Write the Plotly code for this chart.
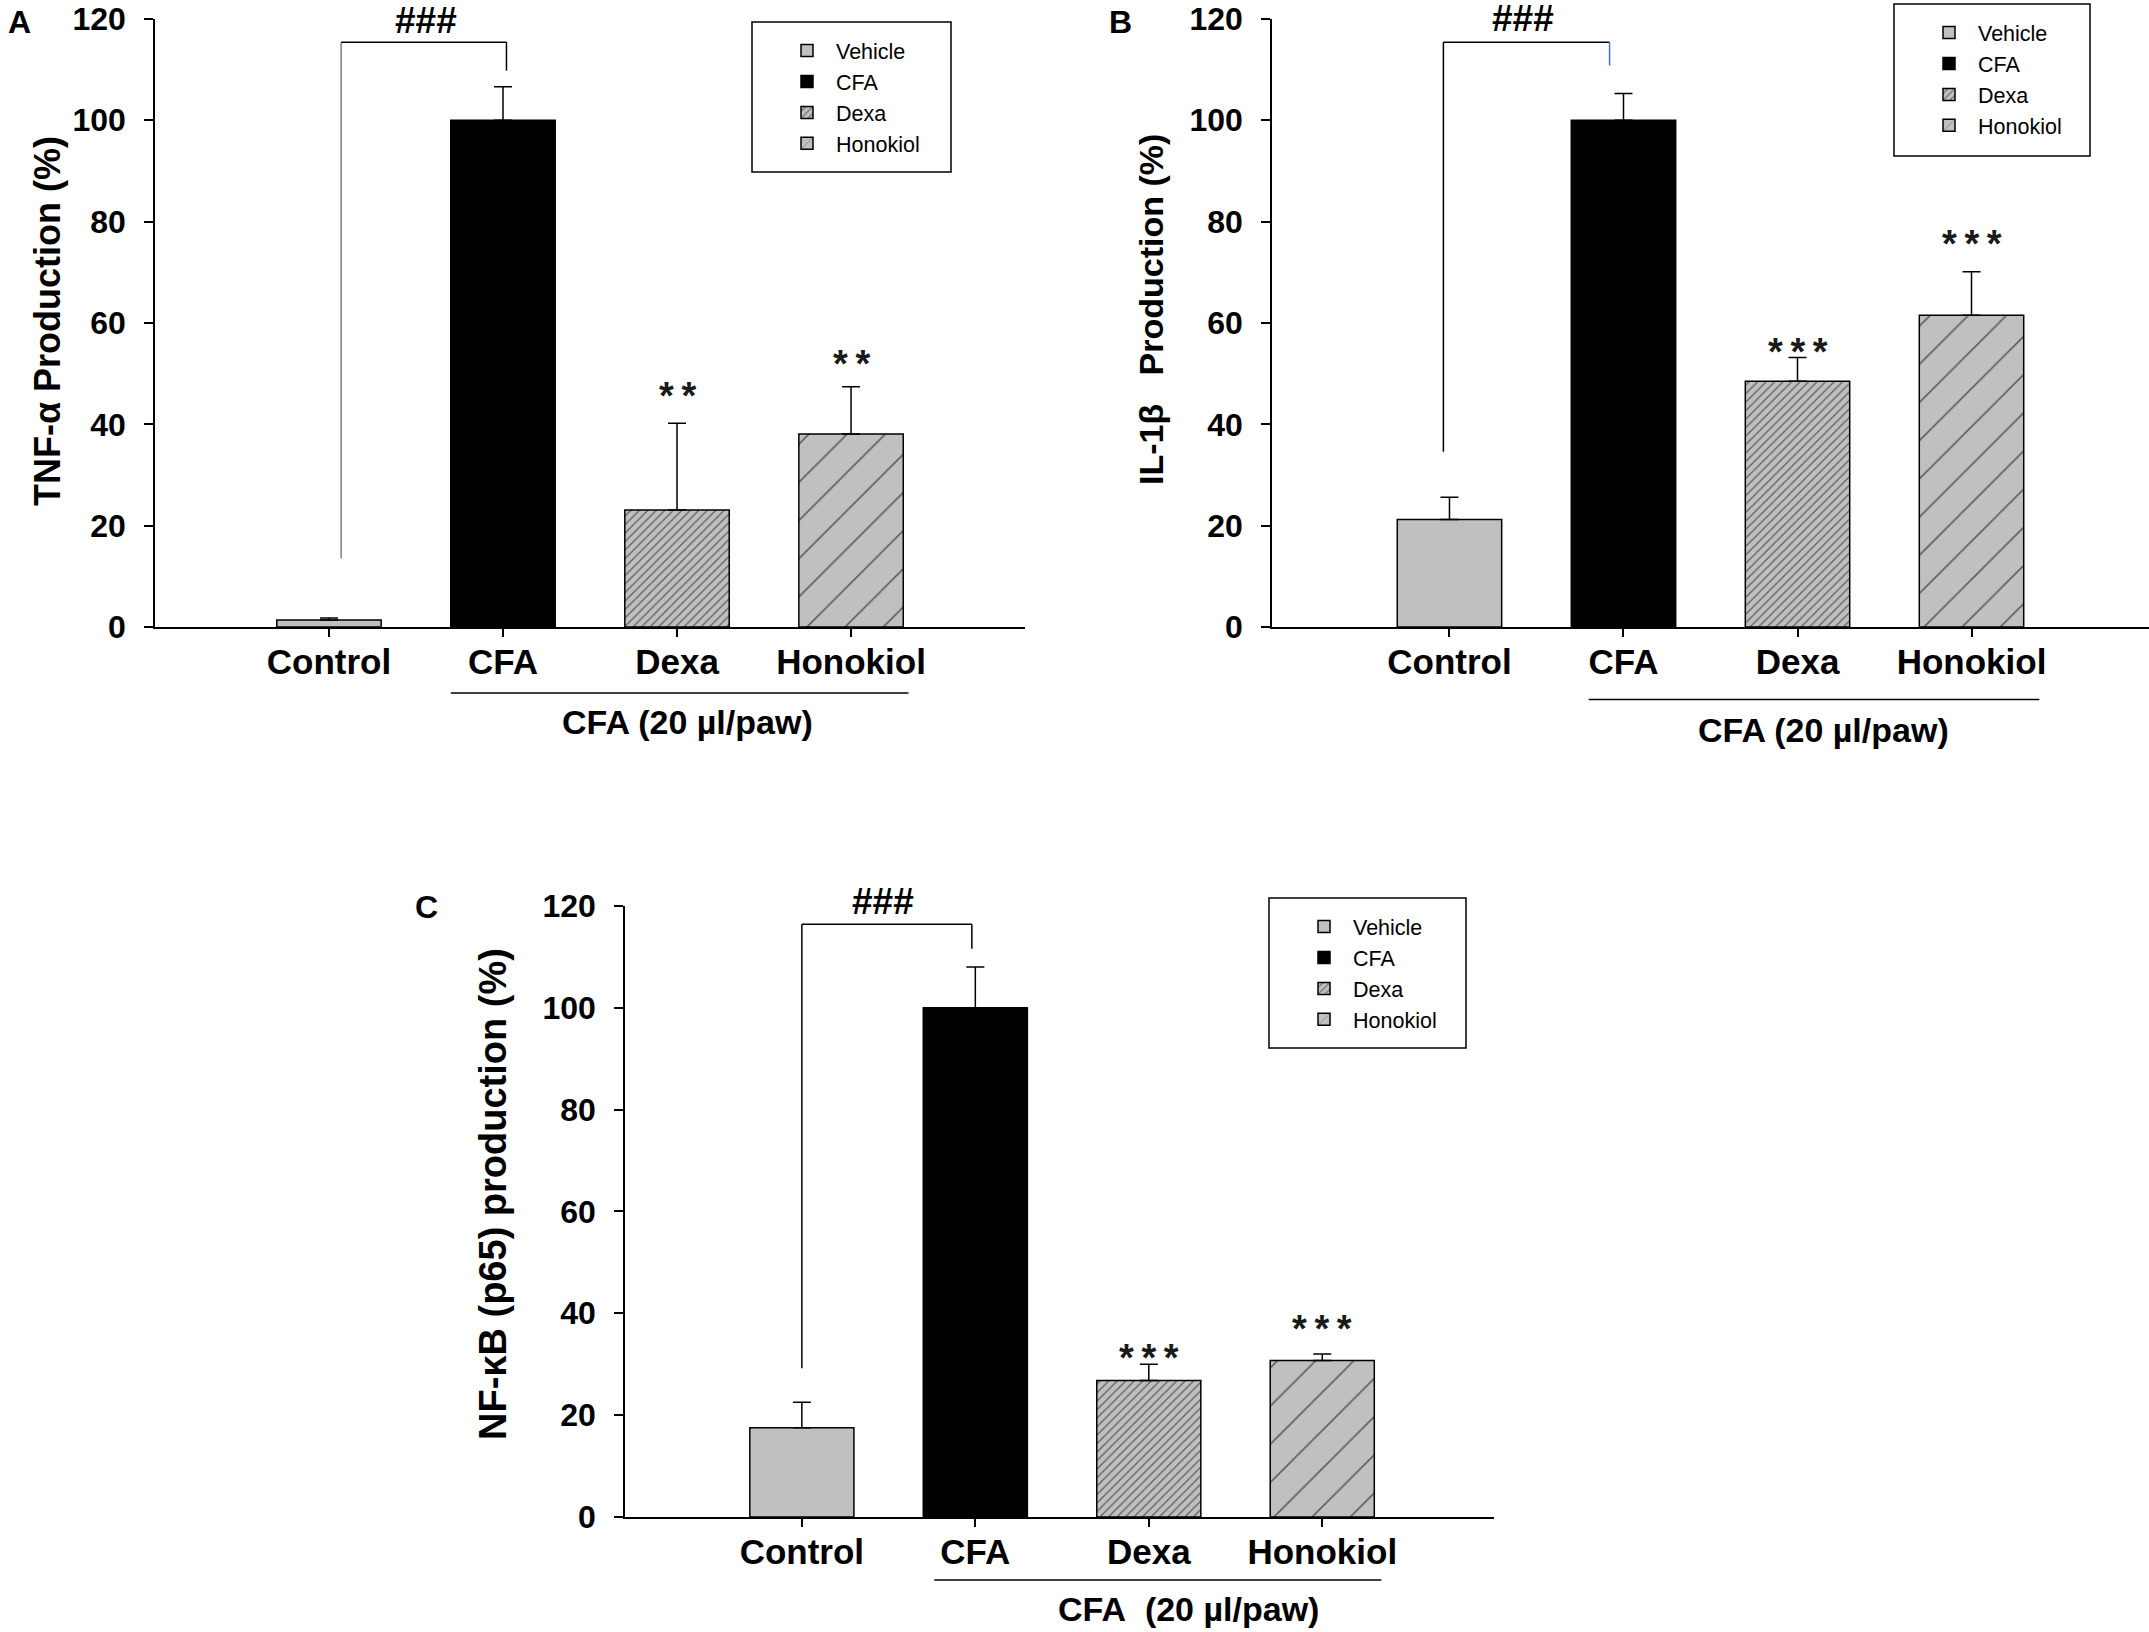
import plotly.graph_objects as go

# %%
# Values (percent of CFA group)
categories = ["Control", "CFA", "Dexa", "Honokiol"]
legend_names = ["Vehicle", "CFA", "Dexa", "Honokiol"]

tnf_values = [1.4, 100, 23.1, 38.1]
tnf_errors = [0.4, 6.6, 17.1, 9.3]
tnf_stars = ["", "", "**", "**"]
tnf_star_y = [None, None, 46.9, 53.3]

il1b_values = [21.2, 100, 48.5, 61.5]
il1b_errors = [4.4, 5.3, 4.7, 8.6]
il1b_stars = ["", "", "***", "***"]
il1b_star_y = [None, None, 55.6, 76.9]

nfkb_values = [17.5, 100, 26.8, 30.7]
nfkb_errors = [5.0, 8.0, 3.2, 1.3]
nfkb_stars = ["", "", "***", "***"]
nfkb_star_y = [None, None, 32.6, 38.2]

# Control vs CFA bracket: x left, x right, y top, y bottom left, y bottom right
tnf_bracket = [0.07, 1.02, 115.4, 13.5, 109.8]
il1b_bracket = [-0.035, 0.92, 115.4, 34.6, 110.8]
nfkb_bracket = [0.0, 0.98, 116.4, 29.2, 111.6]

y_ticks = [0, 20, 40, 60, 80, 100, 120]
y_max = 120

# %%
W, H = 2149, 1632
font_name = "Liberation Sans"
fills = ["#c0c0c0", "black", "#c0c0c0", "#c0c0c0"]
pattern_shapes = ["", "", "/", "/"]
pattern_sizes = [8, 8, 6, 27]
pattern_solid = [0.2, 0.2, 0.22, 0.06]

panels = [
    dict(
        values=tnf_values, errors=tnf_errors, stars=tnf_stars, star_y=tnf_star_y,
        bracket=tnf_bracket, bracket_colors=["#808080", "black", "black"],
        hash_x=0.56, hash_y=119.6,
        xdom=[0.0721, 0.4770], ydom=[0.6158, 0.9884], xrange=[-1.0, 4.0],
        title="TNF-α Production (%)", title_xy=(48, 321), title_size=36,
        letter="A", letter_xy=(19, 3),
        group_line=[0.70, 3.33, -0.1086], group_label=(2.06, -0.156, "CFA (20 µl/paw)"),
        legend_box=(752, 22, 951, 172),
    ),
    dict(
        values=il1b_values, errors=il1b_errors, stars=il1b_stars, star_y=il1b_star_y,
        bracket=il1b_bracket, bracket_colors=["black", "black", "#4472c4"],
        hash_x=0.42, hash_y=120.0,
        xdom=[0.5919, 1.0], ydom=[0.6158, 0.9884], xrange=[-1.02, 4.02],
        title="IL-1β\u00a0\u00a0\u00a0Production (%)", title_xy=(1151, 310), title_size=34,
        letter="B", letter_xy=(1120, 3),
        group_line=[0.80, 3.39, -0.119], group_label=(2.15, -0.169, "CFA (20 µl/paw)"),
        legend_box=(1894, 4, 2090, 156),
    ),
    dict(
        values=nfkb_values, errors=nfkb_errors, stars=nfkb_stars, star_y=nfkb_star_y,
        bracket=nfkb_bracket, bracket_colors=["black", "black", "black"],
        hash_x=0.47, hash_y=120.8,
        xdom=[0.2908, 0.6952], ydom=[0.0705, 0.4449], xrange=[-1.02, 3.99],
        title="NF-κB (p65) production (%)", title_xy=(493, 1194), title_size=38,
        letter="C", letter_xy=(426, 888),
        group_line=[0.763, 3.34, -0.103], group_label=(2.23, -0.150, "CFA\u00a0\u00a0(20 µl/paw)"),
        legend_box=(1269, 898, 1466, 1048),
    ),
]

fig = go.Figure()
annotations = []
shapes = []
layout_axes = {}

for p_i, p in enumerate(panels):
    n = "" if p_i == 0 else str(p_i + 1)
    xref, yref = "x" + n, "y" + n
    legend_id = "legend" + n

    for i, cat in enumerate(categories):
        fig.add_trace(
            go.Bar(
                x=[i],
                y=[p["values"][i]],
                width=0.6,
                name=legend_names[i],
                xaxis=xref,
                yaxis=yref,
                legend=legend_id,
                marker=dict(
                    color=fills[i],
                    line=dict(color="black", width=1.5),
                    pattern=dict(
                        shape=pattern_shapes[i],
                        size=pattern_sizes[i],
                        solidity=pattern_solid[i],
                        fgcolor="black",
                        bgcolor=fills[i],
                    ),
                ),
                error_y=dict(
                    type="data",
                    symmetric=False,
                    array=[p["errors"][i]],
                    arrayminus=[0],
                    color="black",
                    thickness=1.5,
                    width=9,
                ),
            )
        )
        if p["stars"][i]:
            annotations.append(
                dict(
                    x=i, y=p["star_y"][i], xref=xref, yref=yref,
                    text="\u2009".join(p["stars"][i]),
                    showarrow=False, xanchor="center", yanchor="middle", yshift=-7,
                    font=dict(family=font_name, size=38, color="#1a1a1a", weight="bold"),
                )
            )

    layout_axes["xaxis" + n] = dict(
        domain=p["xdom"], anchor=yref, range=p["xrange"], automargin=False,
        tickvals=list(range(len(categories))), ticktext=categories,
        showline=True, linecolor="black", linewidth=1.5,
        ticks="outside", ticklen=8, tickwidth=1.5, tickcolor="black",
        ticklabelstandoff=-5,
        showgrid=False, zeroline=False,
        tickfont=dict(family=font_name, size=35, color="black", weight="bold"),
    )
    layout_axes["yaxis" + n] = dict(
        domain=p["ydom"], anchor=xref, range=[0, y_max], automargin=False,
        tickvals=y_ticks,
        showline=True, linecolor="black", linewidth=1.5,
        ticks="outside", ticklen=9, tickwidth=1.5, tickcolor="black",
        ticklabelstandoff=12,
        showgrid=False, zeroline=False,
        tickfont=dict(family=font_name, size=32, color="black", weight="bold"),
    )

    # bracket Control vs CFA
    bx0, bx1, btop, bl, br = p["bracket"]
    c = p["bracket_colors"]
    shapes += [
        dict(type="line", xref=xref, yref=yref, x0=bx0, x1=bx0, y0=bl, y1=btop,
             line=dict(color=c[0], width=1.5)),
        dict(type="line", xref=xref, yref=yref, x0=bx0, x1=bx1, y0=btop, y1=btop,
             line=dict(color=c[1], width=1.5)),
        dict(type="line", xref=xref, yref=yref, x0=bx1, x1=bx1, y0=btop, y1=br,
             line=dict(color=c[2], width=1.5)),
    ]
    annotations.append(
        dict(x=p["hash_x"], y=p["hash_y"] / y_max, xref=xref, yref=yref + " domain",
             text="###", showarrow=False, xanchor="center", yanchor="middle",
             font=dict(family=font_name, size=37, color="black", weight="bold"))
    )

    # CFA group line and label
    gx0, gx1, gy = p["group_line"]
    shapes.append(
        dict(type="line", xref=xref, yref=yref + " domain", x0=gx0, x1=gx1, y0=gy, y1=gy,
             line=dict(color="black", width=1.5))
    )
    lx, ly, ltext = p["group_label"]
    annotations.append(
        dict(x=lx, y=ly, xref=xref, yref=yref + " domain", text=ltext, showarrow=False,
             xanchor="center", yanchor="middle",
             font=dict(family=font_name, size=34, color="black", weight="bold"))
    )

    # y title, panel letter
    tx, ty = p["title_xy"]
    annotations.append(
        dict(x=tx / W, y=1 - ty / H, xref="paper", yref="paper", text=p["title"],
             textangle=-90, showarrow=False, xanchor="center", yanchor="middle",
             font=dict(family=font_name, size=p["title_size"], color="black", weight="bold"))
    )
    lx, ly = p["letter_xy"]
    annotations.append(
        dict(x=lx / W, y=1 - ly / H, xref="paper", yref="paper", text=p["letter"],
             showarrow=False, xanchor="center", yanchor="top", borderpad=0,
             font=dict(family=font_name, size=32, color="black", weight="bold"))
    )

    # legend with an outer box
    x0, y0, x1, y1 = p["legend_box"]
    shapes.append(
        dict(type="rect", xref="paper", yref="paper", x0=x0 / W, x1=x1 / W,
             y0=1 - y0 / H, y1=1 - y1 / H, line=dict(color="black", width=1.5))
    )
    layout_axes[legend_id] = dict(
        x=(x0 + 26) / W, y=1 - (y0 + 8) / H, xanchor="left", yanchor="top",
        bgcolor="rgba(0,0,0,0)", borderwidth=0, itemwidth=48,
        font=dict(family=font_name, size=21.5, color="black"),
        tracegroupgap=0,
    )

fig.update_layout(
    width=W,
    height=H,
    margin=dict(l=0, r=0, t=0, b=0),
    plot_bgcolor="white",
    paper_bgcolor="white",
    barmode="overlay",
    annotations=annotations,
    shapes=shapes,
    **layout_axes,
)

# drop the default body margin so the figure sits at the window corner
fig.write_html(
    "out.html",
    config={"displayModeBar": False},
    post_script="document.body.style.margin = '0';",
)
